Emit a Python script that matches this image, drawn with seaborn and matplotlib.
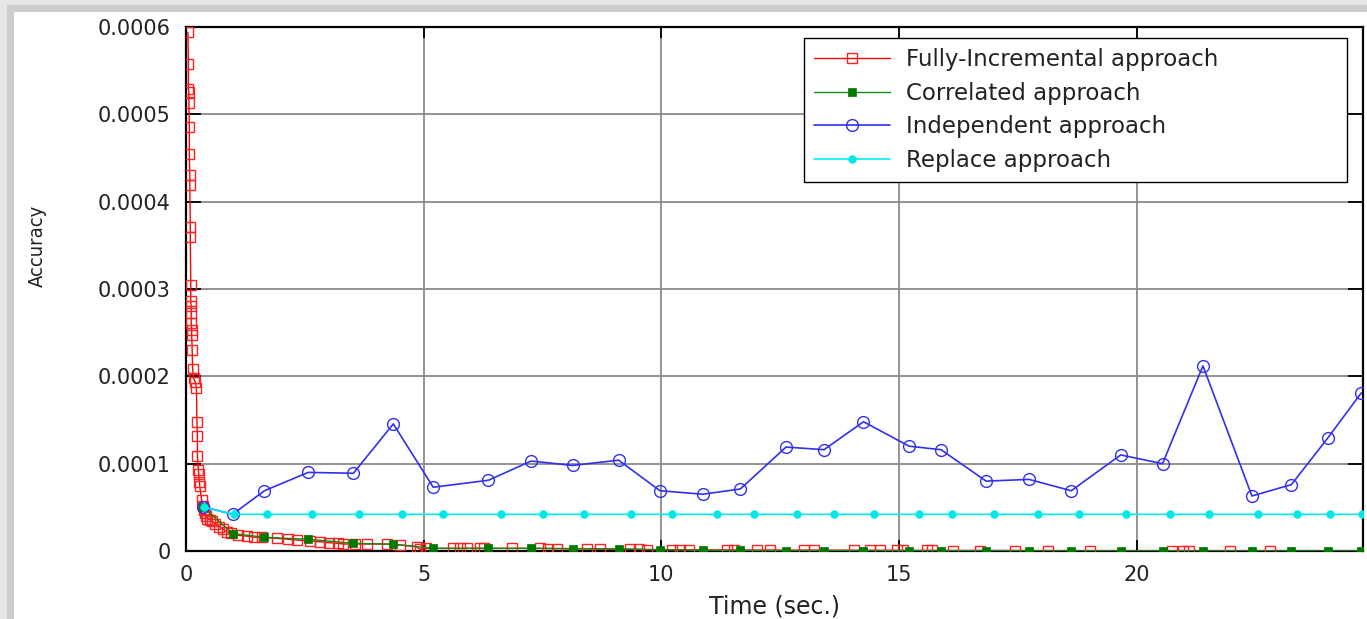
import numpy as np
import pandas as pd
import matplotlib
matplotlib.use("Agg")
import matplotlib.pyplot as plt
from matplotlib.patches import Rectangle
import seaborn as sns

# ---- data -------------------------------------------------------------
# Fully-Incremental approach (time in s, accuracy)
full_t = [0.04, 0.05, 0.05, 0.06, 0.06, 0.07, 0.07, 0.08, 0.08, 0.09, 0.09,
          0.10, 0.10, 0.11, 0.11, 0.11, 0.12, 0.12, 0.13, 0.14, 0.16, 0.19,
          0.22, 0.23, 0.24, 0.24, 0.26, 0.27, 0.28, 0.29, 0.33, 0.36, 0.38,
          0.40, 0.43, 0.45, 0.50, 0.55, 0.62, 0.70, 0.78, 0.86, 0.95, 1.10,
          1.28, 1.42, 1.60, 1.91, 2.15, 2.33, 2.60, 2.82, 3.00, 3.20, 3.31,
          3.55, 3.80, 4.22, 4.50, 4.85, 4.92, 5.05, 5.62, 5.77, 5.91, 6.19,
          6.26, 6.85, 7.45, 7.62, 7.80, 8.43, 8.71, 9.34, 9.52, 9.69, 10.22,
          10.39, 10.57, 11.38, 11.52, 12.00, 12.29, 12.99, 13.20, 14.04,
          14.39, 14.60, 14.95, 15.09, 15.58, 15.69, 16.14, 16.70, 17.44,
          18.14, 19.02, 20.74, 20.98, 21.09, 21.96, 22.80]
full_acc = [5.94, 5.58, 5.29, 5.26, 5.13, 4.85, 4.55, 4.30, 4.19, 3.71, 3.60,
            3.05, 2.86, 2.80, 2.72, 2.61, 2.53, 2.47, 2.30, 2.08, 1.98, 1.94,
            1.87, 1.48, 1.32, 1.09, 0.93, 0.88, 0.79, 0.74, 0.58, 0.51, 0.47,
            0.43, 0.40, 0.37, 0.36, 0.34, 0.31, 0.28, 0.25, 0.22, 0.21, 0.18,
            0.17, 0.16, 0.155, 0.145, 0.134, 0.126, 0.115, 0.106, 0.095,
            0.088, 0.080, 0.080, 0.080, 0.080, 0.069, 0.050, 0.020, 0.030,
            0.030, 0.030, 0.030, 0.030, 0.030, 0.030, 0.030, 0.028, 0.026,
            0.024, 0.022, 0.020, 0.018, 0.016, 0.015, 0.014, 0.013, 0.012,
            0.011, 0.010, 0.010, 0.009, 0.009, 0.008, 0.008, 0.007, 0.007,
            0.006, 0.006, 0.006, 0.005, 0.005, 0.005, 0.004, 0.004, 0.004,
            0.003, 0.003, 0.003, 0.003]

# Correlated and Independent approaches share the same sampling times
sample_t = [0.36, 0.98, 1.65, 2.57, 3.52, 4.36, 5.20, 6.36, 7.26, 8.13, 9.10,
            9.97, 10.87, 11.66, 12.62, 13.42, 14.25, 15.21, 15.88, 16.83,
            17.73, 18.62, 19.66, 20.54, 21.39, 22.42, 23.25, 24.01, 24.72]
correlated_acc = [0.50, 0.20, 0.157, 0.134, 0.088, 0.077, 0.031, 0.031,
                  0.031, 0.028, 0.025, 0.015, 0.008, 0.006, 0.005, 0.005,
                  0.005, 0.004, 0.004, 0.004, 0.003, 0.003, 0.003, 0.003,
                  0.003, 0.002, 0.002, 0.002, 0.002]
independent_acc = [0.507, 0.42, 0.69, 0.90, 0.89, 1.455, 0.73, 0.81, 1.03,
                   0.98, 1.04, 0.69, 0.65, 0.71, 1.19, 1.16, 1.48, 1.20,
                   1.16, 0.80, 0.82, 0.69, 1.10, 1.00, 2.12, 0.63, 0.76,
                   1.29, 1.81]

# Replace approach
replace_t = [0.37, 1.00, 1.71, 2.66, 3.64, 4.55, 5.40, 6.62, 7.50, 8.37, 9.37,
             10.23, 11.17, 11.94, 12.86, 13.64, 14.47, 15.41, 16.11, 16.99,
             17.92, 18.79, 19.78, 20.70, 21.51, 22.54, 23.37, 24.07, 24.73]
replace_acc = [0.50] + [0.42] * 28

SCALE = 1e-4  # accuracy values above are in units of 1e-4

series_labels = ["Fully-Incremental approach", "Correlated approach",
                 "Independent approach", "Replace approach"]
x_ticks = [0, 5, 10, 15, 20]
x_tick_labels = ["0", "5", "10", "15", "20"]
y_ticks = [0, 1e-4, 2e-4, 3e-4, 4e-4, 5e-4, 6e-4]
y_tick_labels = ["0", "0.0001", "0.0002", "0.0003", "0.0004", "0.0005", "0.0006"]

# ---- figure -------------------------------------------------------------
sns.set_theme(style="whitegrid")
plt.rcParams["font.family"] = ["DejaVu Sans"]

W, H = 1367, 619
fig = plt.figure(figsize=(W / 100, H / 100), dpi=100, facecolor="#e6e6e6")
# framed page background
fig.patches.append(Rectangle((7 / W, 0), 1, 1 - 5 / H, transform=fig.transFigure,
                             facecolor="#cccccc", edgecolor="none", zorder=-10))
fig.patches.append(Rectangle((14 / W, 0), 1, 1 - 12 / H, transform=fig.transFigure,
                             facecolor="white", edgecolor="none", zorder=-9))

ax = fig.add_axes([186 / W, 1 - 551 / H, (1362.7 - 186) / W, (551 - 27) / H])
ax.set_facecolor("white")

df_full = pd.DataFrame({"t": full_t, "acc": np.array(full_acc) * SCALE})
df_corr = pd.DataFrame({"t": sample_t, "acc": np.array(correlated_acc) * SCALE})
df_ind = pd.DataFrame({"t": sample_t, "acc": np.array(independent_acc) * SCALE})
df_rep = pd.DataFrame({"t": replace_t, "acc": np.array(replace_acc) * SCALE})

common = dict(x="t", y="acc", ax=ax, estimator=None, sort=False)
sns.lineplot(data=df_full, color="#ff0000", lw=1.0, marker="s", markersize=6.5,
             markerfacecolor="none", markeredgecolor="#ff2020", markeredgewidth=1.0,
             label=series_labels[0], zorder=3, **common)
sns.lineplot(data=df_corr, color="#108a10", lw=1.0, marker="s", markersize=6,
             markerfacecolor="#007800", markeredgecolor="#007800", markeredgewidth=0.5,
             label=series_labels[1], zorder=4, **common)
sns.lineplot(data=df_ind, color="#3030f0", lw=1.2, marker="o", markersize=8.5,
             markerfacecolor="none", markeredgecolor="#3030f0", markeredgewidth=1.0,
             label=series_labels[2], zorder=5, **common)
sns.lineplot(data=df_rep, color="#00f0f0", lw=1.2, marker="o", markersize=5.5,
             markerfacecolor="#00e8e8", markeredgecolor="#00e8e8", markeredgewidth=0.5,
             label=series_labels[3], zorder=6, **common)

ax.set_xlim(0, 24.75)
ax.set_ylim(0, 6e-4)
ax.set_xticks(x_ticks)
ax.set_xticklabels(x_tick_labels, fontsize=15, color="#222222")
ax.set_yticks(y_ticks)
ax.set_yticklabels(y_tick_labels, fontsize=15, color="#222222")

ax.grid(True, color="#8a8a8a", lw=1.3)
for s in ax.spines.values():
    s.set_visible(True)
    s.set_color("black")
    s.set_linewidth(1.6)

ax.tick_params(axis="y", direction="in", length=11, width=1.3, color="black",
               left=True, right=True, pad=11)
ax.tick_params(axis="x", direction="in", length=8, width=1.3, color="black",
               bottom=True, top=True, pad=10)

ax.set_xlabel("Time (sec.)", fontsize=17, color="#222222", va="center")
ax.xaxis.set_label_coords(0.5, -0.105)
ax.set_ylabel("Accuracy", fontsize=14.5, color="#222222", fontstretch="condensed",
              va="center")
ax.yaxis.set_label_coords(-0.1266, 0.582)

# legend box spans a fixed width; entries sit on its left side
x0 = (804 - 186) / (1362.7 - 186)
x1 = (1347 - 186) / (1362.7 - 186)
y1 = (551 - 38) / (551 - 27)
leg = ax.legend(loc="upper left", bbox_to_anchor=(x0, 0, x1 - x0, y1),
                mode="expand", fontsize=16.5, frameon=True, fancybox=False,
                shadow=False, handlelength=3.3, handletextpad=0.7,
                labelspacing=0.46, borderpad=0.45, borderaxespad=0)
leg.get_frame().set_edgecolor("black")
leg.get_frame().set_linewidth(1.0)
leg.get_frame().set_facecolor("white")
leg.get_frame().set_alpha(1)
for txt in leg.get_texts():
    txt.set_color("#222222")

fig.savefig("out.png", dpi=100, facecolor=fig.get_facecolor())
